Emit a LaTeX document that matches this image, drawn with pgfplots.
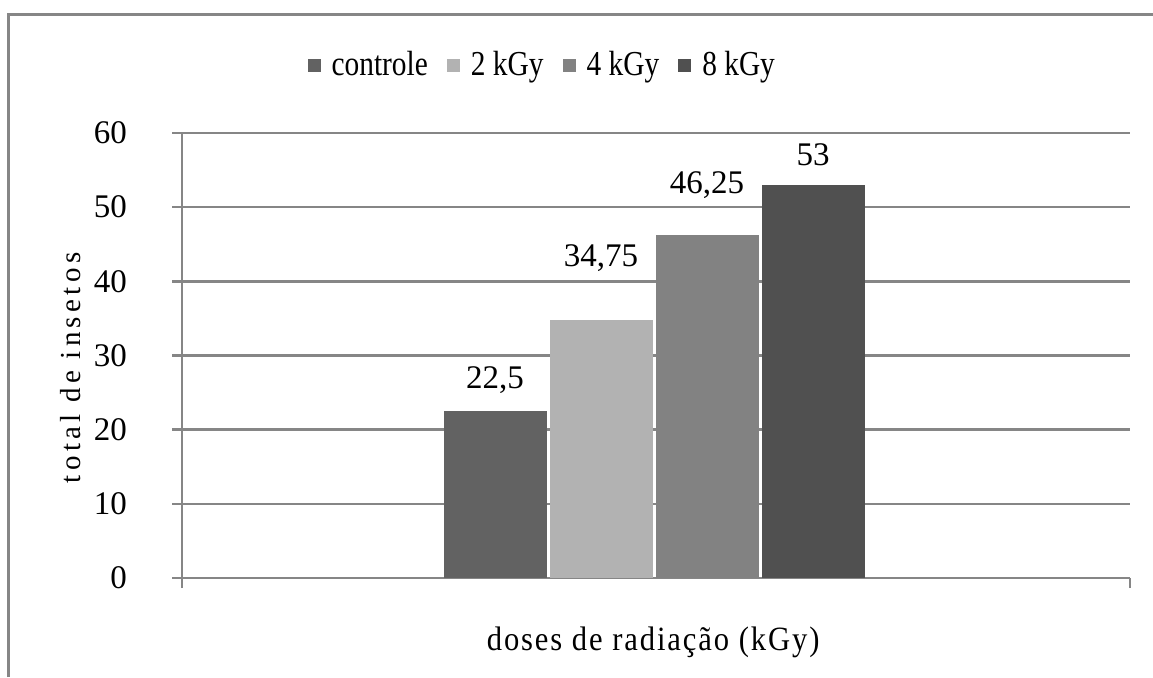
\documentclass[border=0pt]{standalone}
\usepackage{pgfplots}
\pgfplotsset{compat=1.18}
\usepackage{fontspec}
\setmainfont{Liberation Serif}
\newfontfamily\condfont[FakeStretch=0.9]{Liberation Serif}
\newfontfamily\legfont[FakeStretch=0.84]{Liberation Serif}
\definecolor{gridc}{HTML}{868686}
\definecolor{cA}{HTML}{626262}
\definecolor{cB}{HTML}{B2B2B2}
\definecolor{cC}{HTML}{828282}
\definecolor{cD}{HTML}{505050}
\begin{document}
\fontsize{33pt}{38pt}\selectfont
\begin{tikzpicture}
\path[use as bounding box] (0pt,0pt) rectangle (1153pt,-677pt);
\draw[gridc, line width=3pt] (8pt,-677pt) -- (8pt,-15pt) -- (1153pt,-15pt);
\begin{axis}[
  at={(182pt,-578pt)}, anchor=south west,
  width=948pt, height=445pt, scale only axis,
  xmin=0, xmax=1, ymin=0, ymax=60,
  ytick={0,10,...,60},
  xtick={0,1}, xticklabels={,},
  axis lines*=left,
  axis line style={gridc, line width=2.5pt},
  ymajorgrids, grid style={gridc, line width=2.5pt},
  major tick length=10pt,
  tick align=outside,
  tick style={gridc, line width=2.5pt},
  /pgf/number format/assume math mode=true,
  /pgf/number format/use comma,
  yticklabel style={xshift=-34pt},
  ybar=3pt, bar width=103pt,
  nodes near coords,
  xlabel={\condfont\fontsize{34pt}{38pt}\selectfont\addfontfeature{LetterSpace=5.6}doses de radiação (kGy)},
  ylabel={\fontsize{29pt}{34pt}\selectfont\addfontfeature{LetterSpace=15}total de insetos},
  xlabel style={at={(axis description cs:0.497,-0.144)}, anchor=center},
  ylabel style={at={(axis description cs:-0.118,0.472)}, anchor=center, rotate=0},
  legend columns=4,
  legend style={at={(axis description cs:0.380,1.151)}, anchor=center,
    draw=none, fill=none, font=\legfont\fontsize{35pt}{39pt}\selectfont,
    /tikz/every even column/.append style={column sep=17pt},
    /tikz/every odd column/.append style={column sep=9pt}},
]
\addplot[fill=cA, draw=none, legend image code/.code={\fill[cA] (0pt,-6.5pt) rectangle (13pt,6.5pt);},
  every node near coord/.append style={anchor=center, yshift=31pt}]
  coordinates {(0.498,22.5)};
\addlegendentry{controle}
\addplot[fill=cB, draw=none, legend image code/.code={\fill[cB] (0pt,-6.5pt) rectangle (13pt,6.5pt);},
  every node near coord/.append style={anchor=center, yshift=62pt}]
  coordinates {(0.498,34.75)};
\addlegendentry{2 kGy}
\addplot[fill=cC, draw=none, legend image code/.code={\fill[cC] (0pt,-6.5pt) rectangle (13pt,6.5pt);},
  every node near coord/.append style={anchor=center, yshift=50pt}]
  coordinates {(0.498,46.25)};
\addlegendentry{4 kGy}
\addplot[fill=cD, draw=none, legend image code/.code={\fill[cD] (0pt,-6.5pt) rectangle (13pt,6.5pt);},
  every node near coord/.append style={anchor=center, yshift=30pt}]
  coordinates {(0.498,53)};
\addlegendentry{8 kGy}
\end{axis}
\end{tikzpicture}
\end{document}
